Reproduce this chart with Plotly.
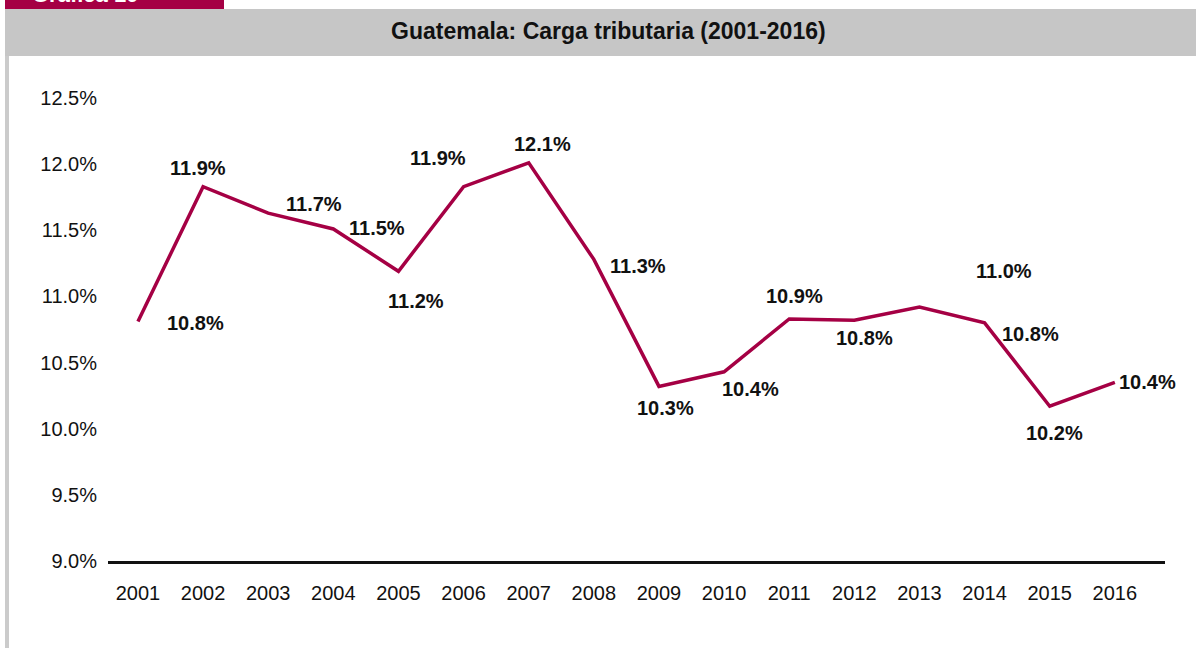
import plotly.graph_objects as go

years = [2001, 2002, 2003, 2004, 2005, 2006, 2007, 2008,
         2009, 2010, 2011, 2012, 2013, 2014, 2015, 2016]
carga = [10.81, 11.83, 11.63, 11.51, 11.19, 11.83, 12.01, 11.28,
         10.32, 10.43, 10.83, 10.82, 10.92, 10.80, 10.17, 10.35]
etiquetas = ["10.8%", "11.9%", "11.7%", "11.5%", "11.2%", "11.9%", "12.1%", "11.3%",
             "10.3%", "10.4%", "10.9%", "10.8%", "11.0%", "10.8%", "10.2%", "10.4%"]
y_ticks = [9.0, 9.5, 10.0, 10.5, 11.0, 11.5, 12.0, 12.5]

# label offsets (px) relative to each point, as placed in the original
label_dx = [58, -5, 46, 44, 18, -26, 14, 44, 7, 26, 5, 10, 85, 46, 5, 33]
label_dy = [-1, 19, 9, 1, -30, 29, 19, -7, -22, -17, 23, -18, 36, -11, -27, 0]

W, H = 1196, 648
L, R, T, B = 108, 31, 98, 87
pw, ph = W - L - R, H - T - B
FONT = "Liberation Sans, Arial, sans-serif"
CRIMSON = "#a50044"
GRAY = "#c6c6c6"


def px(x):
    return (x - L) / pw


def py(y):
    return (H - B - y) / ph


fig = go.Figure()
fig.add_trace(go.Scatter(
    x=years, y=carga, mode="lines",
    line=dict(color=CRIMSON, width=3.5),
    hoverinfo="skip", showlegend=False,
))

for yr, v, lab, dx, dy in zip(years, carga, etiquetas, label_dx, label_dy):
    fig.add_annotation(x=yr, y=v, text="<b>" + lab + "</b>", showarrow=False,
                       xshift=dx, yshift=dy,
                       font=dict(family=FONT, size=20, color="#111111"))

shapes = [
    # crimson tab
    dict(type="rect", xref="paper", yref="paper", x0=px(5), x1=px(224), y0=py(9), y1=py(-2),
         fillcolor=CRIMSON, line_width=0, layer="below"),
    # gray title band
    dict(type="rect", xref="paper", yref="paper", x0=px(5), x1=px(1198), y0=py(56), y1=py(9),
         fillcolor=GRAY, line_width=0, layer="below"),
    # left border
    dict(type="rect", xref="paper", yref="paper", x0=px(5), x1=px(9), y0=py(650), y1=py(56),
         fillcolor="#cbcbcb", line_width=0, layer="below"),
]

fig.add_annotation(xref="paper", yref="paper", x=px(30), y=py(-6), xanchor="left", yanchor="middle",
                   text="<b>Gráfica 10</b>", showarrow=False,
                   font=dict(family=FONT, size=22, color="white"))
fig.add_annotation(xref="paper", yref="paper", x=px(608), y=py(31), xanchor="center", yanchor="middle",
                   text="<b>Guatemala: Carga tributaria (2001-2016)</b>", showarrow=False,
                   font=dict(family=FONT, size=23, color="#111111"))

fig.update_layout(
    width=W, height=H,
    margin=dict(l=L, r=R, t=T, b=B),
    paper_bgcolor="white", plot_bgcolor="white",
    shapes=shapes,
    font=dict(family=FONT, size=20, color="#111111"),
    xaxis=dict(
        range=[2000.54, 2016.77],
        tickvals=years, ticktext=[str(y) for y in years],
        showgrid=False, zeroline=False,
        showline=True, linecolor="#111111", linewidth=2.5,
        ticks="", ticklabelstandoff=12,
        tickfont=dict(family=FONT, size=20, color="#111111"),
        fixedrange=True,
    ),
    yaxis=dict(
        range=[9.0, 12.5],
        tickvals=y_ticks, ticktext=["%.1f%%" % v for v in y_ticks],
        showgrid=False, zeroline=False, showline=False,
        ticks="", ticklabelstandoff=10,
        tickfont=dict(family=FONT, size=20, color="#111111"),
        fixedrange=True,
    ),
)

fig.write_html("out.html", config={"displayModeBar": False},
               post_script="document.body.style.margin='0';document.body.style.overflow='hidden';")
